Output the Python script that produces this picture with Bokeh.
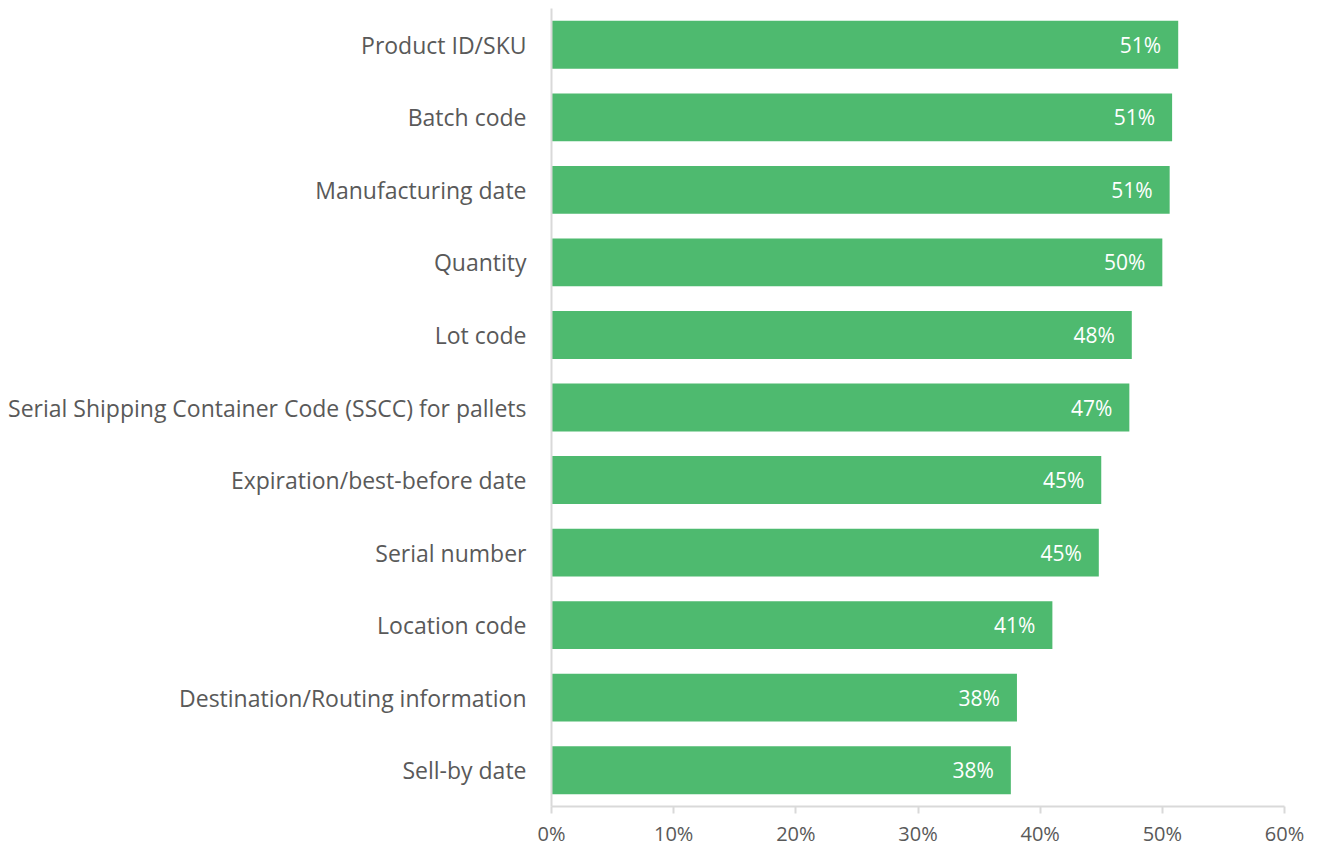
from bokeh.plotting import figure
from bokeh.models import ColumnDataSource, FactorRange, Range1d, LabelSet, NumeralTickFormatter, FixedTicker
from bokeh.core.properties import value
from bokeh.embed import file_html
from bokeh.resources import INLINE

categories = [
    "Product ID/SKU",
    "Batch code",
    "Manufacturing date",
    "Quantity",
    "Lot code",
    "Serial Shipping Container Code (SSCC) for pallets",
    "Expiration/best-before date",
    "Serial number",
    "Location code",
    "Destination/Routing information",
    "Sell-by date",
]
values = [0.513, 0.508, 0.506, 0.500, 0.475, 0.473, 0.450, 0.448, 0.410, 0.381, 0.376]
x_ticks = [0, 0.1, 0.2, 0.3, 0.4, 0.5, 0.6]

labels = [f"{round(v * 100):.0f}%" for v in values]
source = ColumnDataSource(dict(cat=categories, val=values, lab=labels))

FONT = "Open Sans"
TXT = "#595959"
AX = "#d9d9d9"

p = figure(
    width=1308, height=849,
    y_range=FactorRange(*list(reversed(categories)), range_padding=0),
    x_range=Range1d(0, 0.6),
    output_backend="svg", toolbar_location=None,
    min_border_left=551, min_border_right=24, min_border_top=8, min_border_bottom=40,
)
p.outline_line_color = None
p.background_fill_color = "white"
p.border_fill_color = "white"

p.hbar(y="cat", right="val", left=0, height=0.66, source=source,
       fill_color="#4EBA6F", line_color=None)

p.add_layout(LabelSet(x="val", y="cat", text="lab", source=source,
                      x_offset=-17, text_align="right", text_baseline="middle",
                      text_color="white", text_font=value(FONT), text_font_size="21px"))

p.xgrid.grid_line_color = None
p.ygrid.grid_line_color = None

p.xaxis.ticker = FixedTicker(ticks=x_ticks)
p.xaxis.formatter = NumeralTickFormatter(format="0%")
p.xaxis.axis_line_color = AX
p.xaxis.axis_line_width = 2
p.xaxis.major_tick_line_color = AX
p.xaxis.major_tick_line_width = 2
p.xaxis.major_tick_out = 7
p.xaxis.major_tick_in = 0
p.xaxis.minor_tick_line_color = None
p.xaxis.major_label_text_color = TXT
p.xaxis.major_label_text_font = FONT
p.xaxis.major_label_text_font_size = "20px"
p.xaxis.major_label_standoff = 6

p.yaxis.axis_line_color = AX
p.yaxis.axis_line_width = 2
p.yaxis.major_tick_line_color = None
p.yaxis.minor_tick_line_color = None
p.yaxis.major_label_text_color = TXT
p.yaxis.major_label_text_font = FONT
p.yaxis.major_label_text_font_size = "23px"
p.yaxis.major_label_standoff = 19

open("out.html", "w").write(file_html(p, INLINE))
